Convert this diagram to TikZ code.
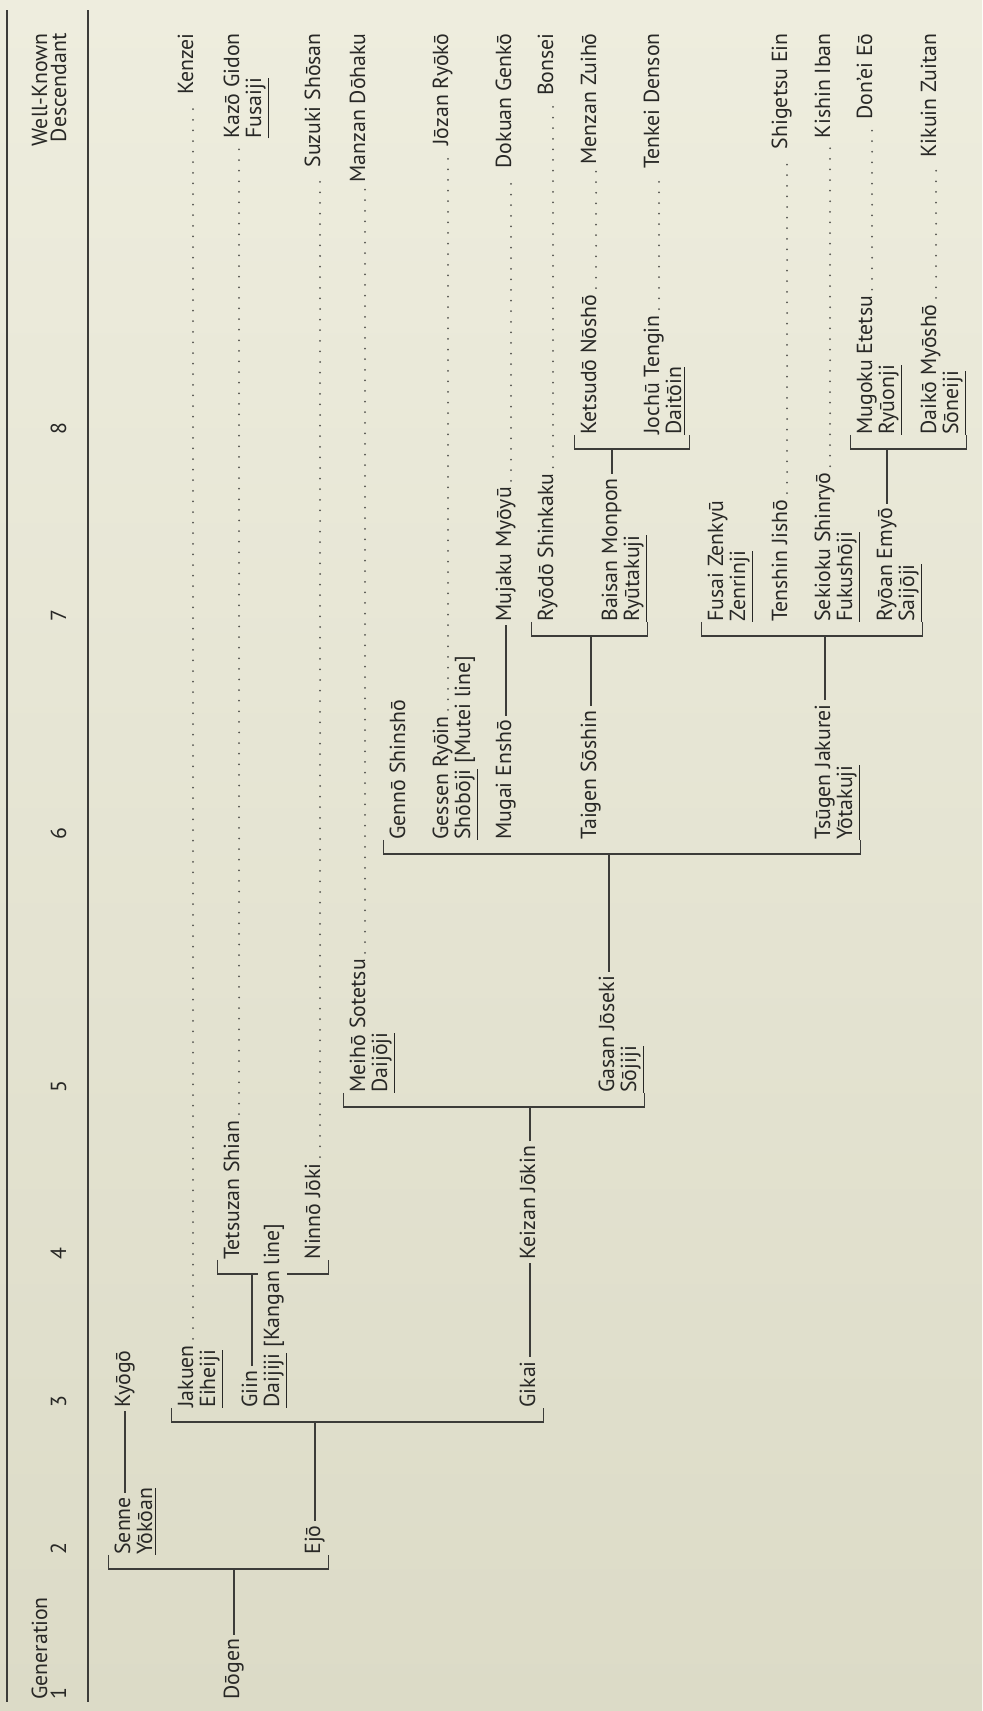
\documentclass[tikz,border=0pt]{standalone}
\usepackage{fontspec}
\setmainfont{PT Sans}
\definecolor{paperhi}{RGB}{238,237,222}
\definecolor{paperlo}{RGB}{220,219,199}
\definecolor{ink}{RGB}{40,40,38}
\definecolor{rulegray}{RGB}{60,60,57}
\definecolor{dotgray}{RGB}{85,85,80}
\newcommand{\heirbracket}[2]{\draw[bar] (#1.north west) -- ++(0,-14) coordinate (#1-br) -| (#2.south west);}

\begin{document}
\begin{tikzpicture}[x=0.5pt,y=0.5pt,
  every node/.style={rotate=90,inner sep=0pt,text height=10.5pt,text depth=4pt,text=ink,font=\fontsize{10.9}{11}\selectfont},
  person/.style={anchor=base west},
  heir/.style={anchor=base east},
  bar/.style={draw=rulegray,line width=0.8pt},
  stem/.style={bar,shorten <=2pt},
  link/.style={bar,shorten <=2pt,shorten >=1.5pt},
  leader/.style={draw=dotgray,line width=1pt,line cap=round,dash pattern=on 0pt off 5.3pt,shorten <=3pt,shorten >=2.5pt},
  rule/.style={draw=rulegray,line width=0.9pt}]

  \shade[top color=paperhi,bottom color=paperlo] (0,0) rectangle (982,1711);
  \useasboundingbox (0,0) rectangle (982,1711);

  \draw[rule] (7,9) -- (7,1701);
  \draw[rule] (88,9) -- (88,1701);

  \node[person] (gen) at (47,11) {Generation};
  \node[person] (g1) at (66,11) {1};
  \node[person] (g2) at (66,156) {2};
  \node[person] (g3) at (66,303) {3};
  \node[person] (g4) at (66,451) {4};
  \node[person] (g5) at (66,618) {5};
  \node[person] (g6) at (66,871) {6};
  \node[person] (g7) at (66,1089) {7};
  \node[person] (g8) at (66,1276) {8};
  \node[heir] (wk) at (47,1678) {Well-Known};
  \node[heir] (desc) at (66,1678) {Descendant};

  \node[person] (dogen) at (239,11) {Dōgen};

  \node[person] (senne) at (130,156) {Senne};
  \node[person] (yokoan) at ([xshift=11pt]senne.base west) {\underline{Yōkōan}};
  \node[person] (ejo) at (320,156) {Ejō};

  \node[person] (kyogo) at (130,303) {Kyōgō};
  \node[person] (jakuen) at (193,303) {Jakuen};
  \node[person] (eiheiji) at ([xshift=11pt]jakuen.base west) {\underline{Eiheiji}};
  \node[person] (giin) at (257,303) {Giin};
  \node[person] (daijiji) at ([xshift=11pt]giin.base west) {\underline{Daijiji} [Kangan line]};
  \node[person] (gikai) at (535,303) {Gikai};

  \node[person] (tetsuzan) at (239,451) {Tetsuzan Shian};
  \node[person] (ninno) at (320,451) {Ninnō Jōki};
  \node[person] (keizan) at (535,451) {Keizan Jōkin};

  \node[person] (meiho) at (365,618) {Meihō Sotetsu};
  \node[person] (daijoji) at ([xshift=11pt]meiho.base west) {\underline{Daijōji}};
  \node[person] (gasan) at (614,618) {Gasan Jōseki};
  \node[person] (sojiji) at ([xshift=11pt]gasan.base west) {\underline{Sōjiji}};

  \node[person] (genno) at (405,871) {Gennō Shinshō};
  \node[person] (gessen) at (448,871) {Gessen Ryōin};
  \node[person] (shoboji) at ([xshift=11pt]gessen.base west) {\underline{Shōbōji} [Mutei line]};
  \node[person] (mugai) at (511,871) {Mugai Enshō};
  \node[person] (taigen) at (596,871) {Taigen Sōshin};
  \node[person] (tsugen) at (830,871) {Tsūgen Jakurei};
  \node[person] (yotakuji) at ([xshift=11pt]tsugen.base west) {\underline{Yōtakuji}};

  \node[person] (mujaku) at (511,1089) {Mujaku Myōyū};
  \node[person] (ryodo) at (553,1089) {Ryōdō Shinkaku};
  \node[person] (baisan) at (617,1089) {Baisan Monpon};
  \node[person] (ryutakuji) at ([xshift=11pt]baisan.base west) {\underline{Ryūtakuji}};
  \node[person] (fusai) at (723,1089) {Fusai Zenkyū};
  \node[person] (zenrinji) at ([xshift=11pt]fusai.base west) {\underline{Zenrinji}};
  \node[person] (tenshin) at (787,1089) {Tenshin Jishō};
  \node[person] (sekioku) at (830,1089) {Sekioku Shinryō};
  \node[person] (fukushoji) at ([xshift=11pt]sekioku.base west) {\underline{Fukushōji}};
  \node[person] (ryoan) at (892,1089) {Ryōan Emyō};
  \node[person] (saijoji) at ([xshift=11pt]ryoan.base west) {\underline{Saijōji}};

  \node[person] (ketsudo) at (596,1276) {Ketsudō Nōshō};
  \node[person] (jochu) at (659,1276) {Jochū Tengin};
  \node[person] (daitoin) at ([xshift=11pt]jochu.base west) {\underline{Daitōin}};
  \node[person] (mugoku) at (872,1276) {Mugoku Etetsu};
  \node[person] (ryuonji) at ([xshift=11pt]mugoku.base west) {\underline{Ryūonji}};
  \node[person] (daiko) at (936,1276) {Daikō Myōshō};
  \node[person] (soneiji) at ([xshift=11pt]daiko.base west) {\underline{Sōneiji}};

  \node[heir] (kenzei) at (193,1678) {Kenzei};
  \node[heir] (kazo) at (239,1678) {Kazō Gidon};
  \node[person] (fusaiji) at ([xshift=11pt]kazo.base west) {\underline{Fusaiji}};
  \node[heir] (suzuki) at (320,1678) {Suzuki Shōsan};
  \node[heir] (manzan) at (365,1678) {Manzan Dōhaku};
  \node[heir] (jozan) at (448,1678) {Jōzan Ryōkō};
  \node[heir] (dokuan) at (511,1678) {Dokuan Genkō};
  \node[heir] (bonsei) at (553,1678) {Bonsei};
  \node[heir] (menzan) at (596,1678) {Menzan Zuihō};
  \node[heir] (tenkei) at (659,1678) {Tenkei Denson};
  \node[heir] (shigetsu) at (787,1678) {Shigetsu Ein};
  \node[heir] (kishin) at (830,1678) {Kishin Iban};
  \node[heir] (donei) at (872,1678) {Don’ei Eō};
  \node[heir] (kikuin) at (936,1678) {Kikuin Zuitan};

  \heirbracket{senne}{ejo}
  \heirbracket{jakuen}{gikai}
  \draw[bar] (tetsuzan.north west) -- ++(0,-14) coordinate (tetsuzan-br) -- (daijiji.north west |- tetsuzan-br);
  \draw[bar] (daijiji.south west |- tetsuzan-br) -| (ninno.south west);
  \heirbracket{meiho}{sojiji}
  \heirbracket{genno}{yotakuji}
  \heirbracket{ryodo}{ryutakuji}
  \heirbracket{ketsudo}{daitoin}
  \heirbracket{fusai}{saijoji}
  \heirbracket{mugoku}{soneiji}

  \path[stem]
    (dogen.mid east) edge (dogen.mid east |- senne-br)
    (ejo.mid east) edge (ejo.mid east |- jakuen-br)
    (giin.mid east) edge (giin.mid east |- tetsuzan-br)
    (keizan.mid east) edge (keizan.mid east |- meiho-br)
    (gasan.mid east) edge (gasan.mid east |- genno-br)
    (taigen.mid east) edge (taigen.mid east |- ryodo-br)
    (baisan.mid east) edge (baisan.mid east |- ketsudo-br)
    (tsugen.mid east) edge (tsugen.mid east |- fusai-br)
    (ryoan.mid east) edge (ryoan.mid east |- mugoku-br);

  \path[link]
    (senne.mid east) edge (kyogo.mid west)
    (gikai.mid east) edge (keizan.mid west)
    (mugai.mid east) edge (mujaku.mid west);

  \path[leader]
    (jakuen.base east) edge (kenzei.base west)
    (tetsuzan.base east) edge (kazo.base west)
    (ninno.base east) edge (suzuki.base west)
    (meiho.base east) edge (manzan.base west)
    (gessen.base east) edge (jozan.base west)
    (mujaku.base east) edge (dokuan.base west)
    (ryodo.base east) edge (bonsei.base west)
    (ketsudo.base east) edge (menzan.base west)
    (jochu.base east) edge (tenkei.base west)
    (tenshin.base east) edge (shigetsu.base west)
    (sekioku.base east) edge (kishin.base west)
    (mugoku.base east) edge (donei.base west)
    (daiko.base east) edge (kikuin.base west);
\end{tikzpicture}
\end{document}
